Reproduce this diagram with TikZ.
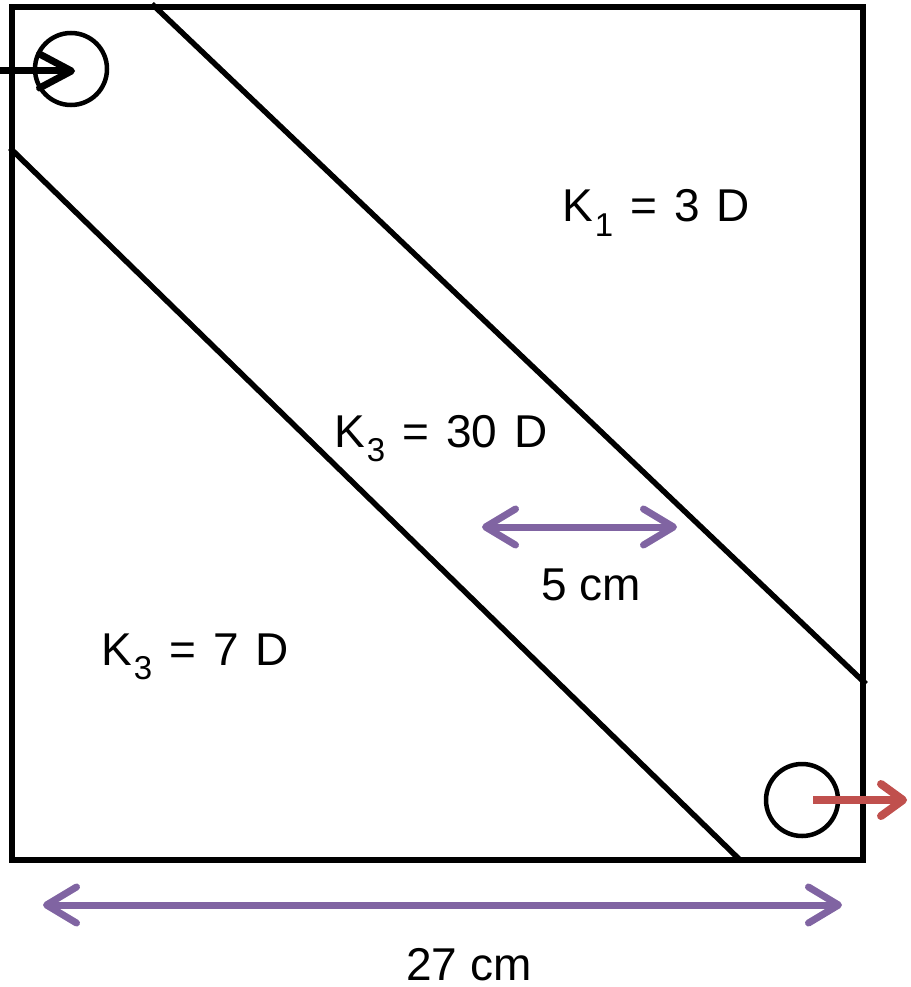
\documentclass[tikz,border=0pt]{standalone}
\usepackage{fontspec}
\setmainfont{Liberation Sans}
\usepackage{xcolor}
\usetikzlibrary{arrows.meta}

\definecolor{dimpurple}{HTML}{8064A2}
\definecolor{outred}{HTML}{C0504D}
\newcommand{\Kperm}[1]{K\kern2pt\raisebox{-14pt}{\fontsize{33}{33}\selectfont #1}}
\newcommand{\kgap}{\hspace{17pt}}

\tikzset{
  wall/.style={line width=5.5pt, black},
  port/.style={circle, draw, line width=4.5pt, minimum size=72pt, inner sep=0pt},
  ktext/.style={font=\fontsize{46}{50}\selectfont, inner sep=0pt, anchor=base west},
  dimarrow/.style={line width=7pt, dimpurple,
    {Straight Barb[round, length=30pt, width=36pt]}-{Straight Barb[round, length=30pt, width=36pt]}},
}

\begin{document}
\begin{tikzpicture}[x=1pt, y=-1pt]
  \useasboundingbox (0,0) rectangle (910,987);

  % Outer square
  \draw[wall] (12,7) rectangle (863,860);

  % Band edges
  \coordinate (bandtopA) at (152,4);
  \coordinate (bandtopB) at (866,684);
  \coordinate (bandlowA) at (10,148);
  \coordinate (bandlowB) at (740,860);
  \draw[wall] (bandtopA) -- (bandtopB);
  \draw[wall] (bandlowA) -- (bandlowB);

  % Wells
  \node[port] (inlet) at (71,69) {};
  \node[port] (outlet) at (802,800) {};

  % Flow in and out
  \coordinate (inflow) at (0,71);
  \coordinate (infront) at (75,71);
  \draw[line width=7pt, -{Straight Barb[round, length=32pt, width=34pt]}] (inflow) -- (infront);
  \coordinate (outstart) at (813,800);
  \coordinate (outflow) at (907,800);
  \draw[line width=8pt, outred, -{Straight Barb[round, length=22pt, width=32pt]}] (outstart) -- (outflow);

  % Permeabilities
  \node[ktext] (kone) at (562,222) {\Kperm{1}\kgap=\kgap3\kgap D};
  \node[ktext] (kband) at (334,447) {\Kperm{3}\kgap=\kgap30\kgap D};
  \node[ktext] (klow) at (101,665) {\Kperm{3}\kgap=\kgap7\kgap D};

  % Widths
  \coordinate (bandwA) at (482,527);
  \coordinate (bandwB) at (677,527);
  \draw[dimarrow] (bandwA) -- (bandwB);
  \node[ktext] (bandw) at (541,600) {5 cm};

  \coordinate (sideA) at (43,905);
  \coordinate (sideB) at (842,905);
  \draw[dimarrow] (sideA) -- (sideB);
  \node[ktext] (side) at (406,980) {27 cm};
\end{tikzpicture}
\end{document}
